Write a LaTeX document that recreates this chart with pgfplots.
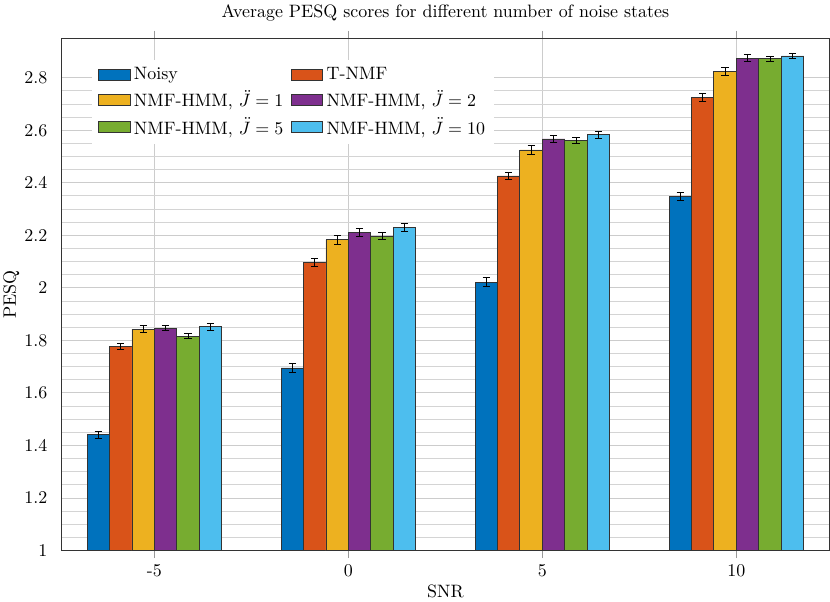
\documentclass[border=0pt]{standalone}
\usepackage{pgfplots}
\pgfplotsset{compat=1.18}
\definecolor{c1}{rgb}{0,0.447,0.741}
\definecolor{c2}{rgb}{0.85,0.325,0.098}
\definecolor{c3}{rgb}{0.929,0.694,0.125}
\definecolor{c4}{rgb}{0.494,0.184,0.556}
\definecolor{c5}{rgb}{0.466,0.674,0.188}
\definecolor{c6}{rgb}{0.301,0.745,0.933}
\pgfplotstableread{
x y e
0 1.441 0.014
1 1.695 0.0165
2 2.022 0.018
3 2.348 0.0165
}\noisy
\pgfplotstableread{
x y e
0 1.777 0.013
1 2.097 0.015
2 2.426 0.015
3 2.725 0.015
}\tnmf
\pgfplotstableread{
x y e
0 1.843 0.014
1 2.183 0.016
2 2.525 0.016
3 2.824 0.015
}\hmma
\pgfplotstableread{
x y e
0 1.847 0.011
1 2.210 0.015
2 2.567 0.013
3 2.875 0.012
}\hmmb
\pgfplotstableread{
x y e
0 1.816 0.010
1 2.197 0.012
2 2.560 0.011
3 2.872 0.010
}\hmmc
\pgfplotstableread{
x y e
0 1.852 0.014
1 2.229 0.016
2 2.583 0.013
3 2.883 0.010
}\hmmd
\begin{document}
\begin{tikzpicture}
\begin{axis}[
  name=ax,
  scale only axis,
  width=428.5pt, height=285.7pt,
  xmin=-0.48, xmax=3.48, ymin=1, ymax=2.95,
  xtick={0,1,2,3}, xticklabels={-5,0,5,10},
  ytick={1,1.2,1.4,1.6,1.8,2,2.2,2.4,2.6,2.8},
  minor y tick num=3,
  ymajorgrids, yminorgrids, xmajorgrids,
  major grid style={color=black!20, line width=0.5pt},
  minor grid style={color=black!17, line width=0.5pt},
  tick align=outside,
  xtick style={color=black!40, line width=0.5pt},
  ytick style={draw=none},
  minor y tick style={draw=none},
  axis line style={color=black!80, line width=0.6pt},
  ybar=0pt, bar width=12.53pt,
  title={Average PESQ scores for different number of noise states},
  xlabel={SNR}, ylabel={PESQ},
  ylabel shift=-4pt, xlabel shift=-2.5pt,
  every axis plot/.append style={draw=black!80, line width=0.5pt},
  error bars/error bar style={black, line width=0.55pt},
  error bars/error mark options={rotate=90, mark size=2.05pt, black, line width=0.55pt},
  legend columns=2,
  legend style={at={(0.04,0.958)}, anchor=north west, draw=none, fill=white,
    /tikz/row sep=0.5pt,
    /tikz/every even column/.append style={column sep=2pt}},
  legend cell align=left,
  legend image code/.code={\draw[#1] (0pt,-3pt) rectangle (17.7pt,3pt);},
]
\addplot[fill=c1, error bars/.cd, y dir=both, y explicit] table[x=x,y=y,y error=e]{\noisy};
\addplot[fill=c2, error bars/.cd, y dir=both, y explicit] table[x=x,y=y,y error=e]{\tnmf};
\addplot[fill=c3, error bars/.cd, y dir=both, y explicit] table[x=x,y=y,y error=e]{\hmma};
\addplot[fill=c4, error bars/.cd, y dir=both, y explicit] table[x=x,y=y,y error=e]{\hmmb};
\addplot[fill=c5, error bars/.cd, y dir=both, y explicit] table[x=x,y=y,y error=e]{\hmmc};
\addplot[fill=c6, error bars/.cd, y dir=both, y explicit] table[x=x,y=y,y error=e]{\hmmd};
\legend{Noisy, T-NMF, {NMF-HMM, $\ddot{J}=1$}, {NMF-HMM, $\ddot{J}=2$}, {NMF-HMM, $\ddot{J}=5$}, {NMF-HMM, $\ddot{J}=10$}}
\end{axis}
\pgfresetboundingbox
\path[use as bounding box] ([shift={(-34.2pt,-28.6pt)}]ax.south west) rectangle ([shift={(0.28pt,21.4pt)}]ax.north east);
\end{tikzpicture}
\end{document}
